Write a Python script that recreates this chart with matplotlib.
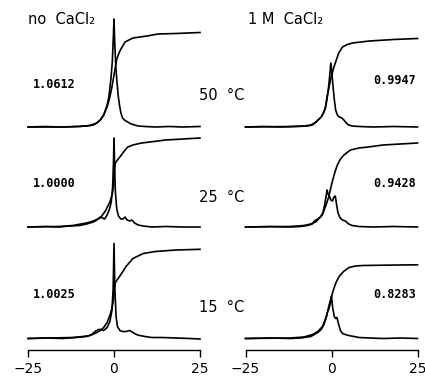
import matplotlib
matplotlib.use("Agg")
import matplotlib.pyplot as plt

# ---- data (x in ppm, heights in trace units) ----
col_titles = ["no  CaCl₂", "1 M  CaCl₂"]
temps = ["50  °C", "25  °C", "15  °C"]
ratios_left = ["1.0612", "1.0000", "1.0025"]
ratios_right = ["0.9947", "0.9428", "0.8283"]
xticks = [-25, 0, 25]
xtick_labels = ["−25", "0", "25"]

# no CaCl2, 50 C
spec_x_l50 = [-25, -20, -15, -11, -8, -6, -5, -4, -3, -2, -1.5, -0.9, -0.5, -0.25, 0, 0.2, 0.5, 0.8,
              1.2, 1.6, 2, 2.5, 3, 4, 5, 6, 7, 9, 12, 16, 20, 25]
spec_y_l50 = [0, 0.5, 0, 0.5, 1, 2, 4, 7, 12, 22, 30, 48, 65, 85, 108, 85, 62, 48,
              32, 22, 14, 9, 7, 5, 3, 2, 1, 0.5, 0, 0.5, 0, 0.5]
int_x_l50 = [-25, -15, -10, -7, -5, -4, -3, -2, -1.2, -0.6, -0.2, 0.3, 0.8, 1.7, 3.2, 5.5, 9.6, 12.8, 18, 25]
int_y_l50 = [0, 0, 0.5, 1.5, 4, 7, 12, 20, 30, 40, 48, 58, 68, 76, 85, 89, 91, 93, 93.5, 94.5]

# no CaCl2, 25 C
spec_x_l25 = [-25, -20, -16, -13, -10, -8, -6, -5, -4, -3.3, -2.7, -2, -1.3, -0.8, -0.4, -0.15, 0, 0.15,
              0.4, 0.8, 1.3, 2, 2.6, 3.2, 3.8, 4.6, 5.2, 6, 7, 8.5, 11, 15, 20, 25]
spec_y_l25 = [0, 0.5, 0, 1, 1.5, 3, 5, 7, 10, 9, 8, 12, 18, 25, 40, 65, 89, 65,
              35, 18, 11, 8, 8, 10, 7, 6, 7, 4, 2, 1, 0, 0.5, 0, 0]
int_x_l25 = [-25, -16, -12, -8, -6, -4, -2.5, -1.2, -0.5, -0.1, 0.15, 0.4, 1.0, 1.7, 3, 4, 5.5, 8, 10.5,
             15, 20, 25]
int_y_l25 = [0, 0.5, 1.5, 4, 6, 9, 16, 25, 33, 42, 58, 64, 67, 70, 76, 80, 82, 84, 85, 87, 88, 89]

# no CaCl2, 15 C
spec_x_l15 = [-25, -20, -15, -11, -8, -6.5, -5.5, -4.5, -3.8, -3, -2, -1.2, -0.6, -0.25, 0, 0.25, 0.6,
              1, 1.7, 2.5, 3.5, 4.6, 5.5, 6.5, 7.5, 9, 11, 14, 18, 22, 25]
spec_y_l15 = [0, 0.5, 0, 1, 2, 4, 7, 9, 9, 8, 11, 17, 28, 50, 95, 50, 22,
              12, 8, 7, 7, 8, 6, 4, 3, 2, 1, 1, 0.5, 0, -0.5]
int_x_l15 = [-25, -12, -9, -6.9, -5, -4, -3, -2, -1.2, -0.6, -0.2, 0.1, 0.4, 1, 2, 3.5, 5.5, 8.5, 12, 18, 25]
int_y_l15 = [0, 1, 2, 3, 6, 8, 11, 16, 23, 30, 38, 50, 56, 59, 64, 72, 80, 85, 87, 88.5, 89.2]

# 1 M CaCl2, 50 C
spec_x_r50 = [-25, -20, -15, -10, -7, -5.5, -4.5, -3.6, -3, -2.3, -1.6, -1, -0.5, -0.2, 0.1, 0.4, 0.8,
              1.2, 1.7, 2.3, 3, 3.6, 4.3, 5, 6, 8, 12, 18, 25]
spec_y_r50 = [0, 0.5, 0, 0.5, 1, 2, 5, 8, 10, 14, 22, 35, 52, 64, 55, 42, 28,
              17, 12, 10, 9, 7, 4, 2, 1, 0.5, 0, 0.5, 0]
int_x_r50 = [-25, -12, -8, -6, -4.5, -3, -1.8, -1.3, -0.3, 0.7, 2.1, 3.2, 4.6, 6.1, 11, 18, 25]
int_y_r50 = [0, 0.5, 1, 2, 5, 10, 18, 30, 47, 60, 74, 80, 82.5, 84, 86, 87.5, 88.5]

# 1 M CaCl2, 25 C
spec_x_r25 = [-25, -18, -12, -9, -7, -5.6, -5, -4, -3.2, -2.5, -2, -1.6, -1.3, -1.0, -0.6, -0.2, 0.3,
              0.7, 1.1, 1.5, 1.9, 2.5, 3.2, 4, 5, 6, 8, 12, 18, 25]
spec_y_r25 = [0, 0.5, 0, 0.5, 1.5, 3, 6, 8, 10, 14, 22, 30, 37, 33, 31, 27, 26,
              30, 31, 22, 14, 9, 7, 6, 3, 1.5, 0.5, 0, 0.5, 0]
int_x_r25 = [-25, -12, -8, -6, -4.6, -2.7, -1.8, -0.9, 0.2, 1, 1.7, 2.6, 3.6, 5.5, 8, 10.7, 15, 20, 25]
int_y_r25 = [0, 0.5, 1.5, 3, 5, 12, 20, 29, 45, 55, 62, 68, 72, 77, 79, 80, 82, 83, 84]

# 1 M CaCl2, 15 C
spec_x_r15 = [-25, -18, -12, -9, -7, -6, -5, -4, -3, -2.2, -1.6, -1.2, -0.7, -0.3, 0, 0.3, 0.8,
              1.2, 1.6, 2, 2.6, 3.2, 4, 5, 6.5, 8, 11, 15, 20, 25]
spec_y_r15 = [0, 0.5, 0, 0.5, 1.5, 2, 4, 6, 9, 14, 20, 26, 30, 36, 42, 32, 22,
              20, 21, 15, 8, 5, 4, 3, 2, 1, 0.5, 0, 0.5, 0]
int_x_r15 = [-25, -12, -8, -5.5, -4, -2.6, -1.5, -0.5, 0.5, 1.3, 2.2, 3.5, 5.1, 7, 9, 15, 25]
int_y_r15 = [0, 0.5, 1.5, 4, 7, 12, 22, 36, 48, 56, 62, 67, 71, 72.5, 73, 73.3, 73.7]

left_traces = [(spec_x_l50, spec_y_l50, int_x_l50, int_y_l50),
               (spec_x_l25, spec_y_l25, int_x_l25, int_y_l25),
               (spec_x_l15, spec_y_l15, int_x_l15, int_y_l15)]
right_traces = [(spec_x_r50, spec_y_r50, int_x_r50, int_y_r50),
                (spec_x_r25, spec_y_r25, int_x_r25, int_y_r25),
                (spec_x_r15, spec_y_r15, int_x_r15, int_y_r15)]

# ---- layout (pixels of the 425x378 picture) ----
W, H = 425, 378
axis_y = 350
row_base = [127, 227, 338.5]   # baseline of each row, px from top
lw = 1.2


def fx(x):
    return x / W


def fy(y):
    return 1 - y / H


fig = plt.figure(figsize=(W / 100, H / 100), dpi=100)
fig.patch.set_facecolor("white")

axes = []
for left_px in (28, 245.5):
    ax = fig.add_axes([fx(left_px), fy(axis_y), 172 / W, axis_y / H])
    ax.set_xlim(-25, 25)
    ax.set_ylim(0, axis_y)
    for s in ("top", "left", "right"):
        ax.spines[s].set_visible(False)
    ax.spines["bottom"].set_linewidth(1.0)
    ax.set_yticks([])
    ax.set_xticks(xticks)
    ax.set_xticklabels(xtick_labels, fontsize=10, family="DejaVu Sans")
    ax.tick_params(axis="x", direction="out", length=5, width=1.0, pad=3.5)
    ax.patch.set_visible(False)
    axes.append(ax)

for ax, traces in zip(axes, (left_traces, right_traces)):
    for base, (sx, sy, ix, iy) in zip(row_base, traces):
        off = axis_y - base
        ax.plot(sx, [v + off for v in sy], color="black", lw=lw, clip_on=False)
        ax.plot(ix, [v + off for v in iy], color="black", lw=lw, clip_on=False)

# titles
fig.text(fx(28), fy(19), col_titles[0], fontsize=10.5, family="DejaVu Sans", va="center", ha="left")
fig.text(fx(248), fy(19), col_titles[1], fontsize=10.5, family="DejaVu Sans", va="center", ha="left")

# temperatures
for t, y in zip(temps, [95, 197, 308]):
    fig.text(fx(199), fy(y), t, fontsize=10.5, family="DejaVu Sans", va="center", ha="left")

# integral ratios
for r, y in zip(ratios_left, [84, 183, 294]):
    fig.text(fx(33), fy(y), r, fontsize=8.5, family="DejaVu Sans Mono", weight="bold",
             va="center", ha="left")
for r, y in zip(ratios_right, [80, 183, 294]):
    fig.text(fx(416), fy(y), r, fontsize=8.5, family="DejaVu Sans Mono", weight="bold",
             va="center", ha="right")

fig.savefig("out.png", dpi=100, facecolor="white")
